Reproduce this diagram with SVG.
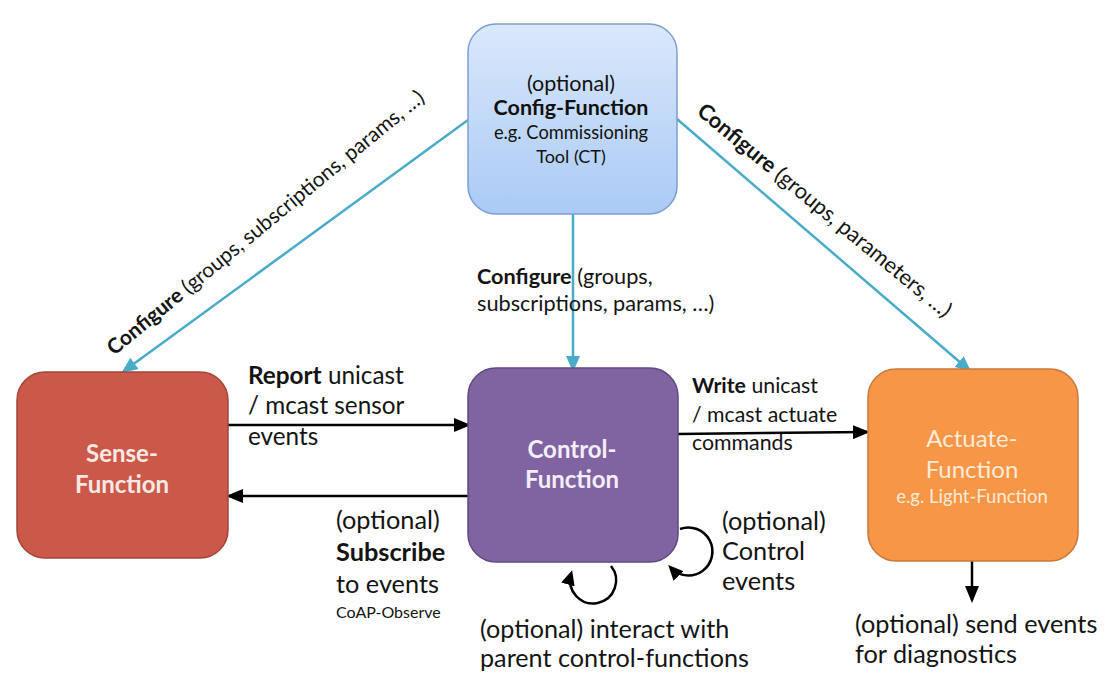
<svg xmlns="http://www.w3.org/2000/svg" width="1111" height="693" viewBox="0 0 1111 693">
<defs>
<linearGradient id="gBlue" x1="0" y1="0" x2="0" y2="1">
<stop offset="0" stop-color="#dae8fb"/>
<stop offset="1" stop-color="#aacaf5"/>
</linearGradient>
<marker id="aBlue" markerUnits="userSpaceOnUse" markerWidth="16" markerHeight="14" refX="13" refY="7" orient="auto">
<path d="M0,0 L16,7 L0,14 z" fill="#4aabc6"/>
</marker>
<marker id="aBlack" markerUnits="userSpaceOnUse" markerWidth="17" markerHeight="14" refX="14" refY="7" orient="auto">
<path d="M0,0 L17,7 L0,14 z" fill="#000"/>
</marker>
<marker id="aLoop" markerUnits="userSpaceOnUse" markerWidth="15" markerHeight="14" refX="11" refY="7" orient="auto">
<path d="M0,0 L15,7 L0,14 z" fill="#000"/>
</marker>
</defs>
<style>
text { font-family: Lato, "Open Sans", "Liberation Sans", sans-serif; }
.lbl { fill: #141414; }
.b { font-weight: bold; }
.blue { stroke: #4aabc6; stroke-width: 2.5; fill: none; marker-end: url(#aBlue); }
.blk { stroke: #000; stroke-width: 2.5; fill: none; marker-end: url(#aBlack); }
.loop { stroke: #000; stroke-width: 2.5; fill: none; marker-end: url(#aLoop); }
.nodeTxt { text-anchor: middle; }
</style>
<rect width="1111" height="693" fill="#fff"/>

<g id="connectors">
<path class="blue" d="M468,120 L124,371"/>
<path class="blue" d="M677,119 L969,370"/>
<path class="blue" d="M573,214 L573,369"/>
<path class="blk" d="M228,425 L468,425"/>
<path class="blk" d="M468,496 L229,496"/>
<path class="blk" d="M678,434 L867,432"/>
<path class="blk" d="M972,561 L972,600"/>
<path class="loop" d="M611,566 A23,23 0 1,1 571,574"/>
<path class="loop" d="M680,529 A24,24 0 1,1 671,568"/>
</g>

<g id="config-function">
<rect x="468" y="24" width="209" height="190" rx="28" fill="url(#gBlue)" stroke="#7c9fd2" stroke-width="1.5"/>
<text class="nodeTxt" x="571" y="91" font-size="21.5" fill="#111">(optional)</text>
<text class="nodeTxt b" x="571" y="115" font-size="21.5" fill="#111">Config-Function</text>
<text class="nodeTxt" x="571" y="139" font-size="18.3" fill="#111">e.g. Commissioning</text>
<text class="nodeTxt" x="571" y="163" font-size="18" fill="#111">Tool (CT)</text>
</g>

<g id="sense-function">
<rect x="17" y="372" width="211" height="186" rx="28" fill="#cb5949" stroke="#a3463a" stroke-width="1.5"/>
<text class="nodeTxt b" x="122" y="462" font-size="24" fill="#f8e8e4">Sense-</text>
<text class="nodeTxt b" x="122" y="493" font-size="24" fill="#f8e8e4">Function</text>
</g>

<g id="control-function">
<rect x="468" y="368" width="210" height="194" rx="28" fill="#8064a2" stroke="#5f4a80" stroke-width="1.5"/>
<text class="nodeTxt b" x="572" y="458" font-size="24" fill="#f3eef8">Control-</text>
<text class="nodeTxt b" x="572" y="488" font-size="24" fill="#f3eef8">Function</text>
</g>

<g id="actuate-function">
<rect x="868" y="369" width="210" height="192" rx="28" fill="#f79646" stroke="#c57b3b" stroke-width="1.5"/>
<text class="nodeTxt" x="972" y="447" font-size="24" fill="#fdeadb">Actuate-</text>
<text class="nodeTxt" x="972" y="478" font-size="24" fill="#fdeadb">Function</text>
<text class="nodeTxt" x="972" y="503" font-size="18.5" fill="#fdeadb">e.g. Light-Function</text>
</g>

<g id="labels">
<text class="lbl" font-size="20.9" text-anchor="middle" transform="translate(270,228) rotate(-39.4)"><tspan class="b">Configure</tspan> (groups, subscriptions, params, …)</text>
<text class="lbl" font-size="21.8" text-anchor="middle" transform="translate(820,216) rotate(39.5)"><tspan class="b">Configure</tspan> (groups, parameters, …)</text>
<text class="lbl" font-size="21.7" x="477" y="284"><tspan class="b">Configure</tspan> (groups,</text>
<text class="lbl" font-size="21.7" x="477" y="311">subscriptions,  params, …)</text>
<text class="lbl" font-size="24.3" x="248" y="384"><tspan class="b">Report</tspan> unicast</text>
<text class="lbl" font-size="24.3" x="248" y="414">/ mcast sensor</text>
<text class="lbl" font-size="24.3" x="248" y="445">events</text>
<text class="lbl" font-size="25.3" x="336" y="529">(optional)</text>
<text class="lbl b" font-size="25.3" x="336" y="561">Subscribe</text>
<text class="lbl" font-size="25.3" x="336" y="593">to events</text>
<text class="lbl" font-size="16" x="336" y="618">CoAP-Observe</text>
<text class="lbl" font-size="21.3" x="692" y="393"><tspan class="b">Write</tspan> unicast</text>
<text class="lbl" font-size="21.3" x="692" y="422">/ mcast actuate</text>
<text class="lbl" font-size="21.3" x="692" y="450">commands</text>
<text class="lbl" font-size="25.3" x="722" y="530">(optional)</text>
<text class="lbl" font-size="25.3" x="722" y="560">Control</text>
<text class="lbl" font-size="25.3" x="722" y="590">events</text>
<text class="lbl" font-size="25.2" x="480" y="638">(optional) interact with</text>
<text class="lbl" font-size="25.2" x="480" y="667">parent control-functions</text>
<text class="lbl" font-size="25.3" x="855" y="633">(optional) send events</text>
<text class="lbl" font-size="25.3" x="855" y="663">for diagnostics</text>
</g>
</svg>
